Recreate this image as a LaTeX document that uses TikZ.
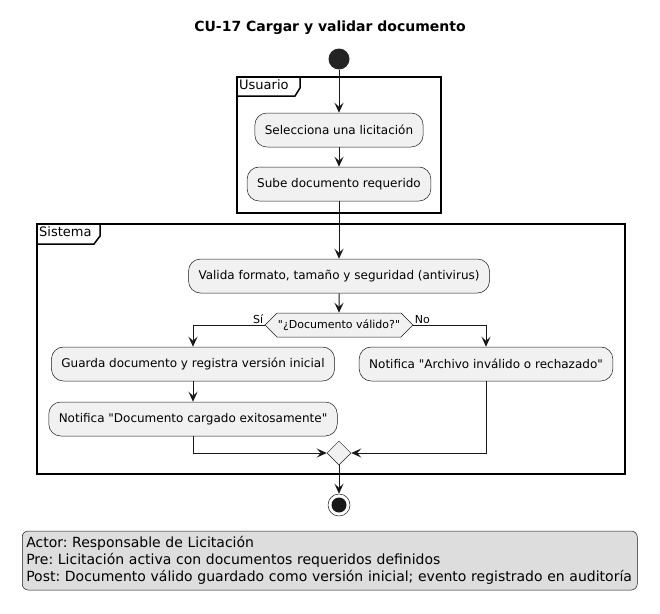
\documentclass[tikz,border=0pt]{standalone}
\usepackage{fontspec}
\setmainfont{DejaVu Sans}
\frenchspacing
\usetikzlibrary{positioning}
\usetikzlibrary{shapes.geometric,shapes.symbols}
\usetikzlibrary{arrows.meta}
\definecolor{actfill}{HTML}{F1F1F1}
\definecolor{linea}{HTML}{181818}
\definecolor{notafill}{HTML}{DDDDDD}
\tikzstyle{accion}=[draw=linea, fill=actfill, line width=0.5pt,
rounded corners=12pt, minimum height=34pt, inner xsep=10pt,
font=\fontsize{12}{14}\selectfont]
\tikzstyle{decision}=[draw=linea, fill=actfill, line width=0.5pt,
signal, signal to=east and west, signal pointer angle=90,
minimum width=147pt, minimum height=24pt, inner sep=1pt,
font=\fontsize{11}{13}\selectfont]
\tikzstyle{union}=[draw=linea, fill=actfill, line width=0.5pt,
diamond, minimum size=24pt, inner sep=0pt]
\tikzstyle{flecha}=[draw=linea, line width=1pt,
-{Stealth[length=10pt, width=9pt, inset=4pt]}]
\tikzstyle{marco}=[draw=black, line width=1.5pt]
\tikzstyle{etiqueta}=[font=\fontsize{11}{13}\selectfont, inner sep=1pt]

\begin{document}
\begin{tikzpicture}
	[x=1pt, y=1pt,
	 inicio/.style = {circle, fill=linea!95, minimum size=21pt, inner sep=0pt},
	 fin/.style = {circle, draw=linea, line width=0.5pt, fill=white,
	   minimum size=22pt, inner sep=0pt,
	   path picture={\fill[linea] (path picture bounding box.center) circle (7.5pt);}}]
	\useasboundingbox (0,0) rectangle (660,-613);
	\node[font=\bfseries\fontsize{14}{16}\selectfont] (titulo) at (330,-28) {CU-17 Cargar y validar documento};
	
	% marcos
	\draw[marco] (237,-77) rectangle (441,-213);
	\draw[marco] (237,-96) -- (295,-96) -- (300,-88) -- (300,-77);
	\node[anchor=north west, inner sep=2pt, font=\fontsize{13}{15}\selectfont] (usuario) at (237,-77.5) {Usuario};
	\draw[marco] (37,-224) rectangle (625,-474);
	\draw[marco] (37,-244) -- (94,-244) -- (100,-236) -- (100,-224);
	\node[anchor=north west, inner sep=2pt, font=\fontsize{13}{15}\selectfont] (sistema) at (37,-224.5) {Sistema};
	
	\node[inicio] (1) at (339,-59) {};
	\node[accion] (2) [below of = 1, node distance=71pt] {Selecciona una licitación};
	\node[accion] (3) [below of = 2, node distance=54pt] {Sube documento requerido};
	\node[accion] (4) [below of = 3, node distance=92pt] {Valida formato, tamaño y seguridad (antivirus)};
	\node[decision] (5) [below of = 4, node distance=49pt] {\textquotedbl¿Documento válido?\textquotedbl};
	\node[accion] (6) at (193,-364) {Guarda documento y registra versión inicial};
	\node[accion] (7) at (486,-364) {Notifica \textquotedbl Archivo inválido o rechazado\textquotedbl};
	\node[accion] (8) [below of = 6, node distance=55pt] {Notifica \textquotedbl Documento cargado exitosamente\textquotedbl};
	\node[union] (9) at (339,-453) {};
	\node[fin] (10) [below of = 9, node distance=52pt] {};
	\node[draw=linea, fill=notafill, line width=0.5pt, rounded corners=6pt,
	  anchor=west, minimum height=59pt, inner xsep=4pt, text width=607pt, align=left,
	  font=\fontsize{14}{16.8}\selectfont] (11) at (22,-560.5)
	  {Actor: Responsable de Licitación\\
	   Pre: Licitación activa con documentos requeridos definidos\\
	   Post: Documento válido guardado como versión inicial; evento registrado en auditoría};
	
	\draw[flecha] (1) to (2);
	\draw[flecha] (2) to (3);
	\draw[flecha] (3) to (4);
	\draw[flecha] (4) to (5);
	\draw[flecha] (5.west) -| node[etiqueta, pos=0, above left] {Sí} (6.north);
	\draw[flecha] (5.east) -| node[etiqueta, pos=0, above right] {No} (7.north);
	\draw[flecha] (6) to (8);
	\draw[flecha] (8.south) |- (9.west);
	\draw[flecha] (7.south) |- (9.east);
	\draw[flecha] (9) to (10);
\end{tikzpicture}
\end{document}
